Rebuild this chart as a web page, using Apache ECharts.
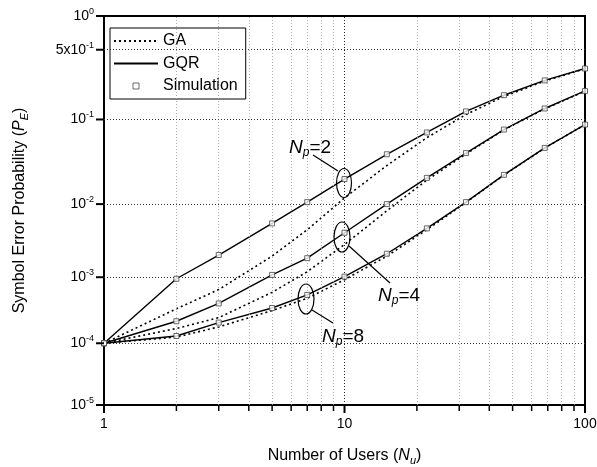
<!DOCTYPE html>
<html>
<head>
<meta charset="utf-8">
<script src="https://cdn.jsdelivr.net/npm/echarts@6/dist/echarts.min.js"></script>
<style>
  html, body { margin: 0; padding: 0; background: #fff; }
  #chart { width: 597px; height: 467px; }
</style>
</head>
<body>
<div id="chart"></div>
<script>
// Number of users at which each curve is evaluated
const users = [1, 2, 3, 5, 7, 10, 15, 22, 32, 46, 68, 100];

// Gaussian approximation (GA)
const gaNp2 = [1e-4, 3.4e-4, 6.6e-4, 2.0e-3, 4.6e-3, 1.2e-2, 3.0e-2, 6.3e-2, 0.113, 0.175, 0.25, 0.33];
const gaNp4 = [1e-4, 1.7e-4, 2.5e-4, 6.0e-4, 1.2e-3, 2.9e-3, 8.2e-3, 2.0e-2, 4.1e-2, 7.7e-2, 0.13, 0.198];
const gaNp8 = [1e-4, 1.25e-4, 1.8e-4, 3.2e-4, 4.9e-4, 9.2e-4, 2.0e-3, 4.6e-3, 1.05e-2, 2.3e-2, 4.8e-2, 8.8e-2];

// Gaussian quadrature rule (GQR)
const gqrNp2 = [1e-4, 9.5e-4, 2.07e-3, 5.6e-3, 1.06e-2, 2.06e-2, 4.07e-2, 7.2e-2, 0.122, 0.18, 0.254, 0.332];
const gqrNp4 = [1e-4, 2.2e-4, 4.1e-4, 1.08e-3, 1.87e-3, 4.2e-3, 1.0e-2, 2.13e-2, 4.2e-2, 7.76e-2, 0.131, 0.199];
const gqrNp8 = [1e-4, 1.3e-4, 2.1e-4, 3.5e-4, 5.5e-4, 1.02e-3, 2.16e-3, 4.8e-3, 1.06e-2, 2.32e-2, 4.82e-2, 8.8e-2];

// Monte Carlo simulation
const simNp2 = [1e-4, 9.5e-4, 2.07e-3, 5.6e-3, 1.06e-2, 2.06e-2, 4.07e-2, 7.2e-2, 0.122, 0.18, 0.254, 0.332];
const simNp4 = [1e-4, 2.2e-4, 4.1e-4, 1.08e-3, 1.87e-3, 4.2e-3, 1.0e-2, 2.13e-2, 4.2e-2, 7.76e-2, 0.131, 0.199];
const simNp8 = [1e-4, 1.3e-4, 2.1e-4, 3.5e-4, 5.5e-4, 1.02e-3, 2.16e-3, 4.8e-3, 1.06e-2, 2.32e-2, 4.82e-2, 8.8e-2];

// Axis ticks
const yTickValues = [1, 0.5, 0.1, 1e-2, 1e-3, 1e-4, 1e-5];
const yTickLabels = ['{b|10}{s|0}', '{b|5x10}{s|-1}', '{b|10}{s|-1}', '{b|10}{s|-2}',
                     '{b|10}{s|-3}', '{b|10}{s|-4}', '{b|10}{s|-5}'];
const xMajorTicks = [1, 10, 100];
const xMinorTicks = [2, 3, 4, 5, 6, 7, 8, 9, 20, 30, 40, 50, 60, 70, 80, 90];

const FONT = 'Liberation Sans, Arial, sans-serif';

// Vertical scale: logarithmic in P_E with the upper decades stretched
const STRETCH = 2.278, DECAY = 0.612;
function scaleY(p) {
  const u = -Math.log10(p);
  return -(u + STRETCH * (1 - Math.pow(DECAY, u)));
}
const yTickCoords = yTickValues.map(scaleY);
const yMin = yTickCoords[yTickCoords.length - 1];
const yMax = yTickCoords[0];

const toPoints = arr => users.map((n, i) => [n, scaleY(arr[i])]);

const gaStyle = { color: '#000', width: 1.6, type: [2, 3] };
const gqrStyle = { color: '#000', width: 1.4, type: 'solid' };

function gaSeries(arr) {
  return { name: 'GA', type: 'line', data: toPoints(arr), symbol: 'none',
           lineStyle: gaStyle, itemStyle: { color: '#000' }, z: 3 };
}
function gqrSeries(arr) {
  return { name: 'GQR', type: 'line', data: toPoints(arr), symbol: 'none',
           lineStyle: gqrStyle, itemStyle: { color: '#000' }, z: 4 };
}
function simSeries(arr) {
  return { name: 'Simulation', type: 'scatter', data: toPoints(arr), symbol: 'rect',
           symbolSize: 5, itemStyle: { color: '#fff', borderColor: '#444', borderWidth: 1 }, z: 5 };
}

// Grid lines drawn as mark lines
const gridLines = {
  type: 'line', data: [], z: 1, silent: true,
  markLine: {
    silent: true, symbol: ['none', 'none'], label: { show: false }, animation: false,
    data: [
      ...xMinorTicks.map(v => ({ xAxis: v, lineStyle: { color: '#999', width: 0.8, type: [1, 2] } })),
      { xAxis: 10, lineStyle: { color: '#222', width: 1, type: [1, 2] } },
      ...yTickCoords.slice(1, -1).map(v => ({ yAxis: v, lineStyle: { color: '#333', width: 1, type: [1, 2] } }))
    ]
  }
};

const nameRich = {
  i: { fontFamily: FONT, fontSize: 16, fontStyle: 'italic', color: '#000', lineHeight: 20 },
  sub: { fontFamily: FONT, fontSize: 11, fontStyle: 'italic', color: '#000', lineHeight: 8, verticalAlign: 'bottom' }
};

const chart = echarts.init(document.getElementById('chart'), null, { renderer: 'canvas' });

chart.setOption({
  animation: false,
  backgroundColor: '#fff',
  textStyle: { fontFamily: FONT },
  grid: { left: 104, right: 12, top: 16, bottom: 62, outerBoundsMode: 'none', containLabel: false,
          show: true, borderColor: '#000', borderWidth: 2, backgroundColor: 'transparent' },
  legend: {
    data: [
      { name: 'GA', itemStyle: { color: 'transparent', borderWidth: 0 } },
      { name: 'GQR', itemStyle: { color: 'transparent', borderWidth: 0 } },
      { name: 'Simulation', icon: 'path://M0,0L10,0L10,10L0,10Z',
        itemStyle: { color: '#fff', borderColor: '#444', borderWidth: 1 } }
    ],
    orient: 'vertical', left: 110, top: 28,
    itemWidth: 44, itemHeight: 6, itemGap: 6.5, padding: [5, 8, 5, 3], symbolKeepAspect: true,
    borderColor: '#000', borderWidth: 1, backgroundColor: '#fff', selectedMode: false,
    textStyle: { fontFamily: FONT, fontSize: 16, color: '#000' }
  },
  xAxis: {
    type: 'log', logBase: 10, min: 1, max: 100,
    name: 'Number of Users ({i|N}{sub|u})', nameLocation: 'middle', nameGap: 41,
    nameTextStyle: { fontFamily: FONT, fontSize: 16, color: '#000', rich: nameRich },
    axisLine: { show: true, lineStyle: { color: '#000', width: 2 } },
    axisTick: { show: false },
    axisLabel: { fontFamily: FONT, fontSize: 14, color: '#000', margin: 12 },
    splitLine: { show: false }
  },
  yAxis: {
    type: 'value', min: yMin, max: yMax,
    name: 'Symbol Error Probability ({i|P}{sub|E})', nameLocation: 'middle', nameGap: 74,
    nameTextStyle: { fontFamily: FONT, fontSize: 16, color: '#000', rich: nameRich },
    axisLine: { show: true, lineStyle: { color: '#000', width: 2 } },
    axisTick: { show: false },
    axisLabel: {
      customValues: yTickCoords.slice(), margin: 10,
      formatter: v => {
        const i = yTickCoords.findIndex(t => Math.abs(t - v) < 1e-6);
        return i >= 0 ? yTickLabels[i] : '';
      },
      rich: {
        b: { fontFamily: FONT, fontSize: 14, color: '#000', lineHeight: 18 },
        s: { fontFamily: FONT, fontSize: 9, color: '#000', lineHeight: 7, verticalAlign: 'top' }
      }
    },
    splitLine: { show: false }
  },
  series: [
    gridLines,
    gaSeries(gaNp2), gaSeries(gaNp4), gaSeries(gaNp8),
    gqrSeries(gqrNp2), gqrSeries(gqrNp4), gqrSeries(gqrNp8),
    simSeries(simNp2), simSeries(simNp4), simSeries(simNp8)
  ]
});

// Outward tick marks, placed through the axes' own scales
const toPx = (x, y) => chart.convertToPixel({ xAxisIndex: 0, yAxisIndex: 0 }, [x, y]);
const tickMarks = [];
yTickCoords.forEach(v => {
  const [px, py] = toPx(1, v);
  tickMarks.push({ type: 'line', silent: true, z: 20,
    shape: { x1: px - 8, y1: py, x2: px, y2: py }, style: { stroke: '#000', lineWidth: 2 } });
});
xMinorTicks.forEach(v => {
  const [px, py] = toPx(v, yMin);
  tickMarks.push({ type: 'line', silent: true, z: 20,
    shape: { x1: px, y1: py, x2: px, y2: py + 6 }, style: { stroke: '#000', lineWidth: 1.5 } });
});
xMajorTicks.forEach(v => {
  const [px, py] = toPx(v, yMin);
  tickMarks.push({ type: 'line', silent: true, z: 20,
    shape: { x1: px, y1: py, x2: px, y2: py + 8 }, style: { stroke: '#000', lineWidth: 2 } });
});

// Curve annotations for the pilot counts
const annRich = {
  i: { fontFamily: FONT, fontSize: 19, fontStyle: 'italic', color: '#000', lineHeight: 22 },
  sub: { fontFamily: FONT, fontSize: 12, fontStyle: 'italic', color: '#000', lineHeight: 8, verticalAlign: 'bottom' },
  n: { fontFamily: FONT, fontSize: 19, color: '#000', lineHeight: 22 }
};
function ann(label, ov, line, pos) {
  return [
    { type: 'ellipse', shape: { cx: ov[0], cy: ov[1], rx: ov[2], ry: ov[3] },
      style: { fill: 'none', stroke: '#000', lineWidth: 1.2 }, z: 10 },
    { type: 'line', shape: { x1: line[0], y1: line[1], x2: line[2], y2: line[3] },
      style: { stroke: '#000', lineWidth: 1.2 }, z: 10 },
    { type: 'text', x: pos[0], y: pos[1], z: 10,
      style: { text: '{i|N}{sub|p}{n|=' + label + '}', rich: annRich, verticalAlign: 'top' } }
  ];
}
chart.setOption({
  graphic: [
    ...tickMarks,
    ...ann('2', [344, 183, 7.5, 14.5], [313, 155, 338, 171], [289, 137]),
    ...ann('4', [342, 237, 8, 15], [349, 246, 390, 283], [378, 285]),
    ...ann('8', [306, 299, 8, 15], [312, 310, 333, 323], [322, 326])
  ]
});
</script>
</body>
</html>
